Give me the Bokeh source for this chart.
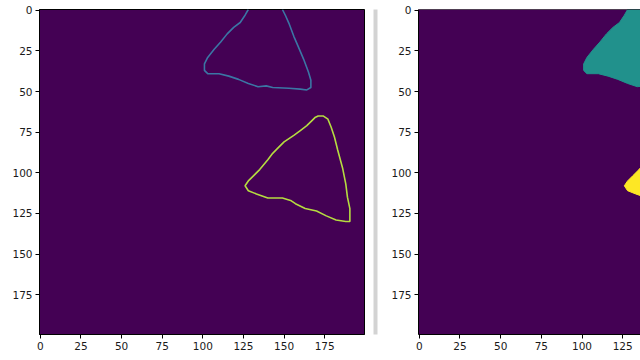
from bokeh.plotting import figure
from bokeh.layouts import row
from bokeh.models import Range1d, FixedTicker, Span
from bokeh.embed import file_html
from bokeh.resources import INLINE

# ---- data (label image, 200 x 200 pixels) ----
img_size = 200
tick_values = [0, 25, 50, 75, 100, 125, 150, 175]

# label 1: region touching the top edge (boundary is open along the top edge)
label1_x = [128, 126, 123, 119, 115, 111, 107, 103, 101, 101, 103, 110, 116, 122, 128,
            134, 139, 143, 153, 160, 164, 166.5, 166.5, 165, 162, 159, 156, 153, 151, 149]
label1_y = [-0.5, 3, 7.5, 10.5, 14.5, 19.5, 24, 29, 33, 37, 39, 39, 40.5, 42.5, 45,
            47, 46.5, 47.5, 48, 48.5, 49, 47.5, 43, 38, 30, 23, 16, 8, 3.5, -0.5]

# label 2: closed region
label2_x = [171, 174, 177, 179, 181, 183, 186, 188, 189, 190.5, 190.5, 188, 182, 176, 170,
            163, 157, 154, 149, 140, 133, 128, 126, 128, 131, 135, 140, 143, 146, 150,
            156, 160, 164, 167, 169]
label2_y = [65, 65, 67, 72, 78, 86, 97, 107, 115, 122, 130, 130, 129, 126.5, 123.5,
            122, 119, 117, 115.5, 115.5, 113, 111, 108, 105, 102, 98, 92, 88, 85, 81,
            77, 74, 71, 68, 66]

background_color = "#440154"
fill_colors = ["#21918c", "#fde725"]
edge_colors = ["#3b76a4", "#b5dc40"]

FONT = "DejaVu Sans"


def style_axes(p):
    for ax in (p.xaxis, p.yaxis):
        ax.ticker = FixedTicker(ticks=tick_values)
        ax.minor_tick_line_color = None
        ax.major_tick_in = 0
        ax.major_tick_out = 4
        ax.major_tick_line_color = "black"
        ax.major_tick_line_width = 1
        ax.axis_line_color = "black"
        ax.axis_line_width = 1
        ax.major_label_text_font = FONT
        ax.major_label_text_font_size = "10.5px"
        ax.major_label_text_color = "#1a1a1a"
        ax.major_label_standoff = 3
    p.xgrid.grid_line_color = None
    p.ygrid.grid_line_color = None
    p.background_fill_color = background_color
    p.border_fill_color = "white"


# ---- left panel: boundaries ----
p1 = figure(width=372, height=360, output_backend="svg", toolbar_location=None,
            x_range=Range1d(-0.5, img_size - 0.5),
            y_range=Range1d(img_size - 0.5, -0.5),
            min_border_left=39, min_border_right=8, min_border_top=9, min_border_bottom=26)
style_axes(p1)
p1.outline_line_color = "black"
p1.outline_line_width = 1
p1.line(label1_x, label1_y, line_color=edge_colors[0], line_width=1.6)
p1.patch(label2_x, label2_y, fill_color=None, line_color=edge_colors[1], line_width=1.6)

# ---- separator ----
sep = figure(width=6, height=360, output_backend="svg", toolbar_location=None,
             min_border_left=1, min_border_right=1, min_border_top=0, min_border_bottom=0)
sep.axis.visible = False
sep.grid.grid_line_color = None
sep.outline_line_color = None
sep.background_fill_color = "#d3d3d3"
sep.border_fill_color = "white"

# ---- right panel: filled labels (cropped by the window) ----
p2_width = 262
p2_left = 40
visible_x_max = -0.5 + (p2_width - p2_left) / 1.627
p2 = figure(width=p2_width, height=360, output_backend="svg", toolbar_location=None,
            x_range=Range1d(-0.5, visible_x_max),
            y_range=Range1d(img_size - 0.5, -0.5),
            min_border_left=p2_left, min_border_right=0, min_border_top=9, min_border_bottom=26)
style_axes(p2)
p2.outline_line_color = None
p2.add_layout(Span(location=-0.5, dimension="width", line_color="black", line_width=1))
p2.patch(label1_x, label1_y, fill_color=fill_colors[0], line_color=fill_colors[0], line_width=1)
p2.patch(label2_x, label2_y, fill_color=fill_colors[1], line_color=fill_colors[1], line_width=1)

layout = row(p1, sep, p2, spacing=0)

open("out.html", "w").write(file_html(layout, INLINE))
